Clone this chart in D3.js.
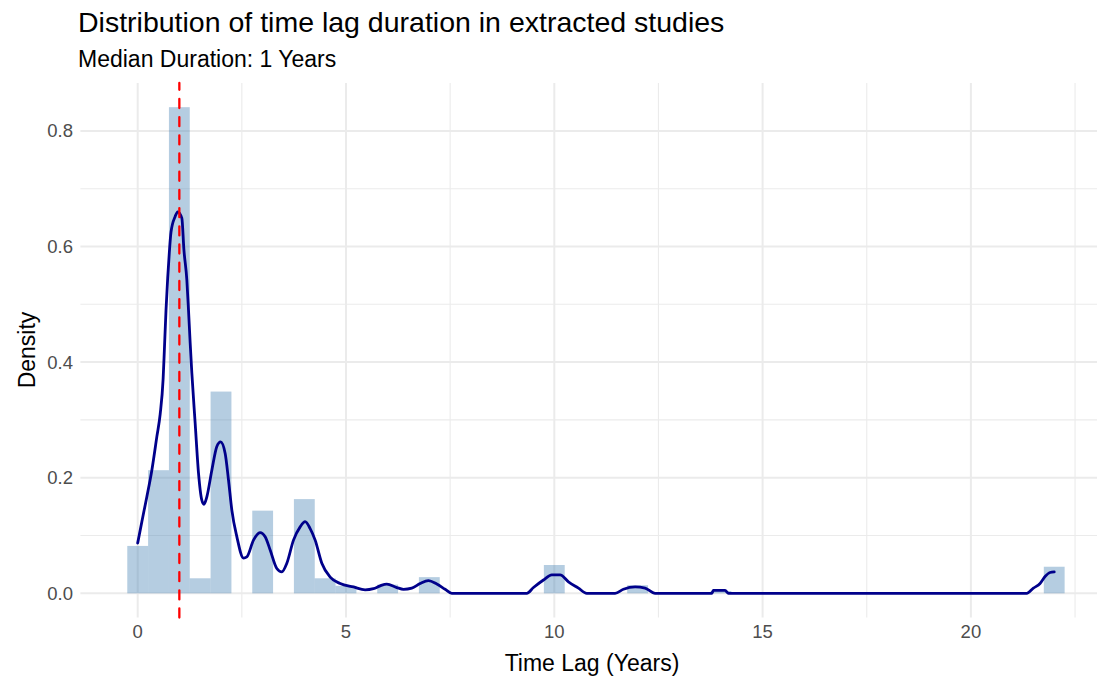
<!DOCTYPE html>
<html>
<head>
<meta charset="utf-8">
<script src="https://cdn.jsdelivr.net/npm/d3@7"></script>
<style>
  html, body { margin: 0; padding: 0; background: #ffffff; }
  svg { display: block; font-family: "Liberation Sans", Arial, sans-serif; }
</style>
</head>
<body>
<svg id="chart" width="1097" height="686"></svg>
<script>
// ---------- data ----------
const titleText = "Distribution of time lag duration in extracted studies";
const subtitleText = "Median Duration: 1 Years";
const xTitle = "Time Lag (Years)";
const yTitle = "Density";

const binWidth = 0.5;
const binCenters = [0, 0.5, 1, 1.5, 2, 3, 4, 4.5, 5, 6, 7, 10, 12, 14, 22];
const binDensity = [0.082, 0.213, 0.841, 0.026, 0.349, 0.143, 0.163, 0.026, 0.013, 0.015, 0.028, 0.049, 0.014, 0.004, 0.046];

const densityX = [0.00, 0.10, 0.22, 0.34, 0.46, 0.54, 0.61, 0.64, 0.68, 0.72, 0.76, 0.80, 0.90, 0.96, 1.06, 1.11, 1.18, 1.22, 1.26, 1.30, 1.38, 1.46, 1.54, 1.59, 1.66, 1.78, 1.90, 1.99, 2.10, 2.18, 2.26, 2.38, 2.54, 2.62, 2.78, 2.94, 3.06, 3.18, 3.34, 3.46, 3.58, 3.74, 3.90, 4.02, 4.14, 4.26, 4.42, 4.62, 4.86, 5.18, 5.46, 5.66, 5.82, 5.98, 6.22, 6.38, 6.58, 6.78, 6.98, 7.18, 7.38, 7.54, 9.34, 9.50, 9.74, 9.94, 10.14, 10.34, 10.58, 10.78, 11.46, 11.66, 11.94, 12.18, 12.42, 13.78, 13.82, 14.10, 14.18, 21.34, 21.50, 21.66, 21.78, 21.90, 22.00];
const densityY = [0.087, 0.124, 0.167, 0.213, 0.271, 0.310, 0.370, 0.420, 0.490, 0.545, 0.590, 0.625, 0.652, 0.660, 0.649, 0.594, 0.542, 0.490, 0.433, 0.381, 0.294, 0.208, 0.161, 0.154, 0.167, 0.213, 0.254, 0.262, 0.242, 0.196, 0.144, 0.098, 0.061, 0.063, 0.092, 0.105, 0.098, 0.075, 0.043, 0.037, 0.052, 0.092, 0.115, 0.124, 0.112, 0.092, 0.052, 0.028, 0.017, 0.011, 0.006, 0.008, 0.013, 0.016, 0.010, 0.007, 0.009, 0.017, 0.022, 0.016, 0.007, 0.000, 0.000, 0.010, 0.023, 0.032, 0.032, 0.020, 0.009, 0.000, 0.000, 0.007, 0.011, 0.009, 0.000, 0.000, 0.005, 0.005, 0.000, 0.000, 0.009, 0.017, 0.029, 0.036, 0.037];

const medianValue = 1;

const xMajorTicks = [0, 5, 10, 15, 20];
const xMinorTicks = [2.5, 7.5, 12.5, 17.5, 22.5];
const yMajorTicks = [0.0, 0.2, 0.4, 0.6, 0.8];
const yMinorTicks = [0.1, 0.3, 0.5, 0.7];

// ---------- layout ----------
const svg = d3.select("#chart");
const panel = { left: 80.4, right: 1111.5, top: 82.9, bottom: 617.6 };

const x = d3.scaleLinear().domain([-1.375, 23.375]).range([panel.left, panel.right]);
const y = d3.scaleLinear().domain([-0.042, 0.883]).range([panel.bottom, panel.top]);

const gridColor = "#EBEBEB";

// gridlines
const grid = svg.append("g");
grid.selectAll(".xminor").data(xMinorTicks).join("line")
  .attr("x1", d => x(d)).attr("x2", d => x(d))
  .attr("y1", panel.top).attr("y2", panel.bottom)
  .attr("stroke", gridColor).attr("stroke-width", 1.1);
grid.selectAll(".yminor").data(yMinorTicks).join("line")
  .attr("x1", panel.left).attr("x2", panel.right)
  .attr("y1", d => y(d)).attr("y2", d => y(d))
  .attr("stroke", gridColor).attr("stroke-width", 1.1);
grid.selectAll(".xmajor").data(xMajorTicks).join("line")
  .attr("x1", d => x(d)).attr("x2", d => x(d))
  .attr("y1", panel.top).attr("y2", panel.bottom)
  .attr("stroke", gridColor).attr("stroke-width", 2);
grid.selectAll(".ymajor").data(yMajorTicks).join("line")
  .attr("x1", panel.left).attr("x2", panel.right)
  .attr("y1", d => y(d)).attr("y2", d => y(d))
  .attr("stroke", gridColor).attr("stroke-width", 2);

// histogram bars
const bins = binCenters.map((c, i) => ({ c, d: binDensity[i] }));
svg.append("g").selectAll("rect").data(bins).join("rect")
  .attr("x", b => x(b.c - binWidth / 2))
  .attr("width", b => x(b.c + binWidth / 2) - x(b.c - binWidth / 2))
  .attr("y", b => y(b.d))
  .attr("height", b => y(0) - y(b.d))
  .attr("fill", "steelblue")
  .attr("fill-opacity", 0.4);

// density curve
const pts = densityX.map((v, i) => [v, densityY[i]]);
svg.append("path")
  .datum(pts)
  .attr("d", d3.line().x(p => x(p[0])).y(p => y(p[1])).curve(d3.curveMonotoneX))
  .attr("fill", "none")
  .attr("stroke", "#00008B")
  .attr("stroke-width", 2.8)
  .attr("stroke-linejoin", "round")
  .attr("stroke-linecap", "round");

// median line
svg.append("line")
  .attr("x1", x(medianValue)).attr("x2", x(medianValue))
  .attr("y1", panel.bottom).attr("y2", panel.top)
  .attr("stroke", "#FF0000")
  .attr("stroke-width", 2.3)
  .attr("stroke-dasharray", "9.1,9.1")
  .attr("stroke-linecap", "round");

// axis tick labels
const tickColor = "#4D4D4D";
svg.append("g").selectAll("text").data(yMajorTicks).join("text")
  .attr("x", 73).attr("y", d => y(d))
  .attr("dy", "0.35em")
  .attr("text-anchor", "end")
  .attr("font-size", 18.5)
  .attr("fill", tickColor)
  .text(d => d3.format(".1f")(d));

svg.append("g").selectAll("text").data(xMajorTicks).join("text")
  .attr("x", d => x(d)).attr("y", 632)
  .attr("dy", "0.35em")
  .attr("text-anchor", "middle")
  .attr("font-size", 18.5)
  .attr("fill", tickColor)
  .text(d => d);

// axis titles
svg.append("text")
  .attr("x", 592).attr("y", 663)
  .attr("dy", "0.35em")
  .attr("text-anchor", "middle")
  .attr("font-size", 23)
  .attr("fill", "#000")
  .text(xTitle);

svg.append("text")
  .attr("transform", "translate(26.8,350) rotate(-90)")
  .attr("dy", "0.35em")
  .attr("text-anchor", "middle")
  .attr("font-size", 23)
  .attr("fill", "#000")
  .text(yTitle);

// title & subtitle
svg.append("text")
  .attr("x", 78).attr("y", 32)
  .attr("font-size", 28.5)
  .attr("fill", "#000")
  .text(titleText);

svg.append("text")
  .attr("x", 78).attr("y", 67)
  .attr("font-size", 23)
  .attr("fill", "#000")
  .text(subtitleText);
</script>
</body>
</html>
